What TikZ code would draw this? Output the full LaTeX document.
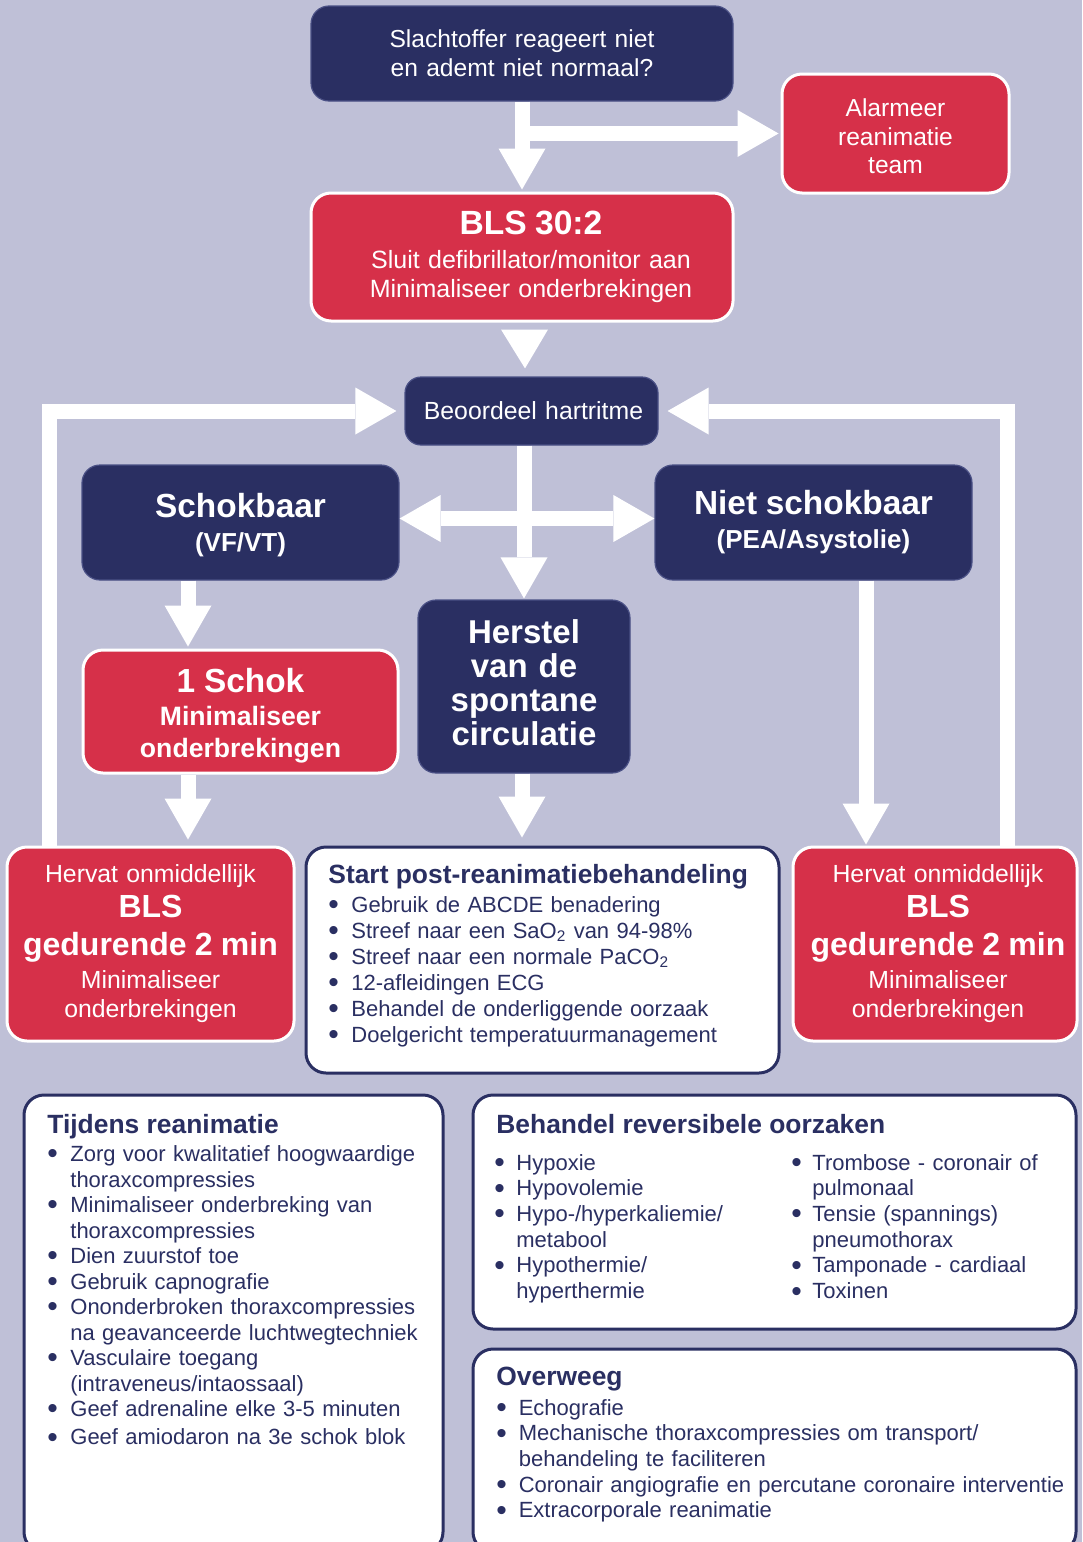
\documentclass[tikz,border=0pt]{standalone}
\usepackage{fontspec}
\setmainfont{Liberation Sans}
\usetikzlibrary{arrows.meta,calc}
\definecolor{bgc}{HTML}{BFC0D7}
\definecolor{navy}{HTML}{2A2F62}
\definecolor{rood}{HTML}{D63049}
\definecolor{navyedge}{HTML}{4A5085}
\newcommand\fs[2]{\fontsize{#1pt}{#2pt}\selectfont}
\newlength\bw
\newcommand\bul{\raisebox{-1.2pt}{\fs{15}{15}\textbullet}}
\newcommand\li[1]{\par\noindent\strut\makebox[\bw][l]{\bul}#1}
\newcommand\lc[1]{\par\noindent\strut\hspace*{\bw}#1}
\tikzset{
  box/.style={rectangle, rounded corners=9pt, inner sep=0pt, align=center, text=white},
  wh/.style 2 args={minimum width=#1, text width=#1, minimum height=#2},
  navybox/.style={box, fill=navy, draw=navyedge, line width=0.6pt},
  redbox/.style={box, rounded corners=10pt, fill=rood, draw=white, line width=1.5pt},
  whitebox/.style={rectangle, rounded corners=10pt, fill=white, draw=navy, line width=1.5pt, inner sep=0pt},
  flow/.style={draw=white, line width=7.5pt, -{Triangle[length=20.5pt,width=23.5pt,line width=0pt]}},
  head/.style={anchor=base west, inner sep=0pt, text=navy, font=\bfseries\fs{13.2}{14}},
  list/.style={anchor=north west, inner sep=0pt, text=navy, text width=290pt, align=left, font=\fs{11}{12.85}},
}
\begin{document}
\begin{tikzpicture}[x=0.5pt,y=-0.5pt]
\useasboundingbox (0,0) rectangle (1082,1542);
\clip (0,0) rectangle (1082,1542);
\fill[bgc] (0,0) rectangle (1082,1542);

% flow boxes
\node[navybox, wh={211pt}{47.5pt}, font=\fs{12.3}{14.5}] (top) at (522,53.5)
  {Slachtoffer reageert niet\\en ademt niet normaal?};
\node[redbox, wh={113.5pt}{59.5pt}, font=\fs{12.3}{14.2}] (alarm) at (895.5,133.5)
  {Alarmeer\\reanimatie\\team\par\vspace*{-3pt}};
\node[redbox, wh={211pt}{64pt}, font=\fs{12.5}{14.5}] (bls) at (522,257)
  {\hspace*{9pt}{\bfseries\fs{16.8}{17}BLS 30:2}\\[2.5pt]\hspace*{9pt}Sluit defibrillator/monitor aan\\\hspace*{9pt}Minimaliseer onderbrekingen};
\node[navybox, rounded corners=8pt, wh={126.5pt}{34pt}, font=\fs{12.4}{14.5}] (beo) at (531.5,411)
  {\hspace*{2pt}Beoordeel hartritme};
\node[navybox, wh={158.5pt}{57.5pt}, font=\bfseries\fs{13}{17}] (schok) at (240.5,522.5)
  {{\fs{16.7}{17}Schokbaar}\\(VF/VT)\par\vspace*{-3pt}};
\node[navybox, wh={158.5pt}{57.5pt}, font=\bfseries\fs{13}{17}] (niet) at (813.5,522.5)
  {{\fs{16.7}{17}Niet schokbaar}\\(PEA/Asystolie)};
\node[redbox, wh={157.5pt}{61.5pt}, font=\bfseries\fs{13.3}{16}] (een) at (240.5,711.5)
  {{\fs{16.7}{16}1 Schok}\\[0.5pt]Minimaliseer\\onderbrekingen\par\vspace*{-4pt}};
\node[navybox, wh={106pt}{86.5pt}, font=\bfseries\fs{16.5}{17}] (herstel) at (524,686.5)
  {Herstel\\van de\\spontane\\circulatie\par\vspace*{3.5pt}};
\node[redbox, wh={143.5pt}{97pt}, font=\fs{12.4}{14.5}] (hervL) at (150.5,944)
  {Hervat onmiddellijk\\[3pt]{\bfseries\fs{16}{16}BLS}\\[4.5pt]{\bfseries\fs{16}{16}gedurende 2 min}\\[2pt]Minimaliseer\\onderbrekingen};
\node[redbox, wh={142pt}{97pt}, font=\fs{12.4}{14.5}] (hervR) at (935,944)
  {\hspace*{3pt}Hervat onmiddellijk\\[3pt]\hspace*{3pt}{\bfseries\fs{16}{16}BLS}\\[4.5pt]\hspace*{3pt}{\bfseries\fs{16}{16}gedurende 2 min}\\[2pt]\hspace*{3pt}Minimaliseer\\\hspace*{3pt}onderbrekingen};

% white boxes
\node[whitebox, minimum width=236.5pt, minimum height=113pt] (post) at (542.5,960) {};
\node[whitebox, minimum width=209.5pt, minimum height=228.5pt] (tijdens) at (233.5,1323.5) {};
\node[whitebox, minimum width=301.5pt, minimum height=117pt] (behandel) at (774.5,1212) {};
\node[whitebox, minimum width=301.5pt, minimum height=101.5pt] (overweeg) at (774.5,1450.5) {};

% texts in white boxes
\node[head] (postH) at (328,883.5) {Start post-reanimatiebehandeling};
\node[list, font=\fs{11}{13}] (postL) at (328,885.8) {\setlength\bw{11.5pt}%
\li{Gebruik de ABCDE benadering}
\li{Streef naar een SaO\textsubscript{2} van 94-98\%}
\li{Streef naar een normale PaCO\textsubscript{2}}
\li{12-afleidingen ECG}
\li{Behandel de onderliggende oorzaak}
\li{Doelgericht temperatuurmanagement}};

\node[head] (tijdensH) at (47,1133) {Tijdens reanimatie};
\node[list, font=\fs{11}{12.75}] (tijdensL) at (47,1135.6) {\setlength\bw{11.5pt}%
\li{Zorg voor kwalitatief hoogwaardige}
\lc{thoraxcompressies}
\li{Minimaliseer onderbreking van}
\lc{thoraxcompressies}
\li{Dien zuurstof toe}
\li{Gebruik capnografie}
\li{Ononderbroken thoraxcompressies}
\lc{na geavanceerde luchtwegtechniek}
\li{Vasculaire toegang}
\lc{(intraveneus/intaossaal)}
\li{Geef adrenaline elke 3-5 minuten}
\par\vspace{1.4pt}
\li{Geef amiodaron na 3e schok blok}};

\node[head] (behandelH) at (496,1133) {Behandel reversibele oorzaken};
\node[list, text width=140pt] (behandelA) at (494,1144) {\setlength\bw{11pt}%
\li{Hypoxie}
\li{Hypovolemie}
\li{Hypo-/hyperkaliemie/}
\lc{metabool}
\li{Hypothermie/}
\lc{hyperthermie}};
\node[list, text width=140pt] (behandelB) at (791,1144) {\setlength\bw{10.5pt}%
\li{Trombose - coronair of}
\lc{pulmonaal}
\li{Tensie (spannings)}
\lc{pneumothorax}
\li{Tamponade - cardiaal}
\li{Toxinen}};

\node[head] (overweegH) at (496,1385) {Overweeg};
\node[list] (overweegL) at (496,1389) {\setlength\bw{11.2pt}%
\li{Echografie}
\li{Mechanische thoraxcompressies om transport/}
\lc{behandeling te faciliteren}
\li{Coronair angiografie en percutane coronaire interventie}
\li{Extracorporale reanimatie}};

% helper coordinates for arrow columns
\coordinate (lloop) at (49,0);
\coordinate (rloop) at (1007,0);
\coordinate (sx) at (188,0);
\coordinate (nx) at (866,0);

% arrows
\draw[flow] (top.south) -- ($(bls.north)+(0,-2)$);
\draw[flow] (top.south |- alarm.west) -- ($(alarm.west)+(-2,0)$);
\fill[white] ($(bls.south)+(-21,7)$) -- ($(bls.south)+(26,7)$) -- ($(bls.south |- beo.north)+(3,-8)$) -- cycle;
\draw[flow] (beo.south -| herstel.north) -- ($(herstel.north)+(0,-1)$);
\draw[flow, {Triangle[length=20.5pt,width=23.5pt,line width=0pt]}-{Triangle[length=20.5pt,width=23.5pt,line width=0pt]}]
  ($(schok.east)+(0,-4)$) -- ($(niet.west)+(0,-4)$);
\draw[flow] (hervL.north -| lloop) |- ($(beo.west)+(-8,0)$);
\draw[flow] (hervR.north -| rloop) |- ($(beo.east)+(9,0)$);
\draw[flow] (schok.south -| sx) -- ($(een.north -| sx)+(0,-2)$);
\draw[flow] (een.south -| sx) -- ($(hervL.north -| sx)+(0,-6)$);
\draw[flow] (herstel.south -| top.south) -- ($(post.north -| top.south)+(0,-8)$);
\draw[flow] (niet.south -| nx) -- ($(hervR.north -| nx)+(0,-1)$);
\end{tikzpicture}
\end{document}
